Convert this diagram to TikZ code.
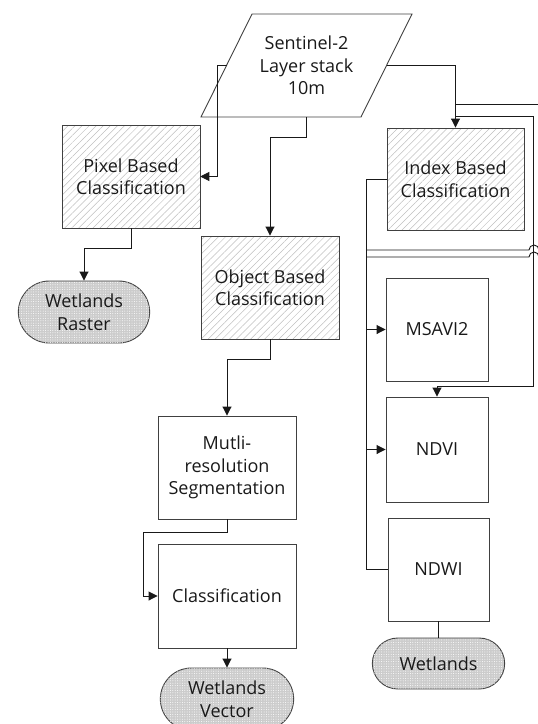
\documentclass[tikz,border=0pt]{standalone}
\usepackage{fontspec}
\setmainfont{Open Sans}
\usetikzlibrary{calc, positioning}
\usetikzlibrary{arrows.meta}
\usetikzlibrary{shapes.misc}
\usetikzlibrary{patterns.meta}

\tikzset{
  procbox/.style={draw=black!75, line width=0.9pt, align=center, text=black!90, inner sep=2pt},
  hatchbox/.style={procbox, pattern={Lines[angle=45,distance=5pt,line width=0.5pt]}, pattern color=black!25},
  outpill/.style={rounded rectangle, draw=black!75, line width=0.9pt, fill=black!20, align=center, text=black!90,
    postaction={pattern={Dots[distance=2.4pt,radius=0.5pt]}, pattern color=white}},
  flow/.style={draw=black!90, line width=0.9pt, -{Triangle[length=9pt,width=9pt]}},
  link/.style={draw=black!90, line width=0.9pt},
}

\begin{document}
\begin{tikzpicture}[x=1pt, y=-1pt, font=\fontsize{18}{22.5}\selectfont]
\useasboundingbox (0,0) rectangle (538,724);

\draw[draw=black!75, line width=0.9pt] (252,14) -- (412,14) -- (361,117) -- (201,117) -- cycle;
\node[align=center, text=black!90] (sent) at (306.5,65.5) {Sentinel-2\\Layer stack\\10m};
\coordinate (sentW) at (226.5,65.5);
\coordinate (sentE) at (386.5,65.5);
\coordinate (sentS) at (306.5,117);

\node[hatchbox, minimum width=138pt, minimum height=103pt] (pix) at (131,176.5) {Pixel Based\\Classification};
\node[hatchbox, minimum width=138pt, minimum height=103pt] (obj) at (270,287.5) {Object Based\\Classification};
\node[hatchbox, minimum width=137pt, minimum height=102pt] (idx) at (455.5,179) {Index Based\\Classification};

\node[procbox, minimum width=102pt, minimum height=103pt] (msavi) at (437,329.5) {MSAVI2};
\node[procbox, minimum width=102pt, minimum height=105pt] (ndvi) at (437,449.5) {NDVI};
\node[procbox, minimum width=101pt, minimum height=103pt] (ndwi) at (438.5,569.5) {NDWI};
\node[procbox, minimum width=138pt, minimum height=103pt] (seg) at (227,467.5) {Mutli-\\resolution\\Segmentation};
\node[procbox, minimum width=138pt, minimum height=104pt] (cls) at (227,596) {Classification};

\node[outpill, minimum width=138pt, minimum height=62pt] (wras) at (84,312) {Wetlands\\Raster};
\node[outpill, minimum width=140pt, minimum height=62pt] (wvec) at (227,699) {Wetlands\\Vector};
\node[outpill, minimum width=139pt, minimum height=51pt] (widx) at (438.5,663.5) {Wetlands};

\coordinate (bus) at (366,0);

\draw[flow] (sentW) -- ++(-9,0) |- (pix.east);
\draw[flow] (sentS) -- ++(0,20) -| (obj.north);
\draw[flow] (sentE) -| (idx.north);
\draw[flow] ([yshift=11pt]idx.north) -- ++(78,0) |- ([yshift=10pt]ndvi.north) -- (ndvi.north);
\draw[link] ([yshift=23pt]idx.north) -- ++(90,0);

\draw[link] (idx.west) -| (bus |- ndwi.west) -- (ndwi.west);
\draw[flow] (bus |- msavi.west) -- (msavi.west);
\draw[flow] (bus |- ndvi.west) -- (ndvi.west);
\draw[link] (366,250) -- (529,250) arc[start angle=180, end angle=0, radius=5pt] -- (545,250);
\draw[link] (366,257) -- (529,257) arc[start angle=180, end angle=0, radius=5pt] -- (545,257);

\draw[flow] (pix.south) -- ++(0,20) -| (wras.north);
\draw[flow] (obj.south) -- ++(0,20) -| (seg.north);
\draw[flow] (seg.south) -- ++(0,13) -| ([xshift=-14pt]cls.west) -- (cls.west);
\draw[flow] (cls.south) -- (wvec.north);
\draw[link] (ndwi.south) -- (widx.north);
\end{tikzpicture}
\end{document}
